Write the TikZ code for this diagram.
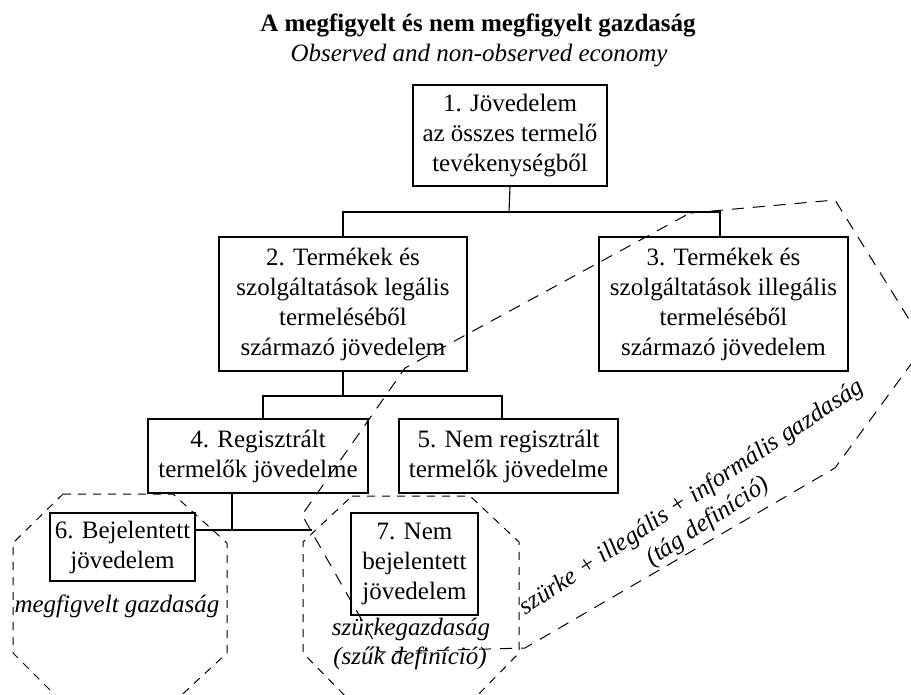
\documentclass[tikz,border=0pt]{standalone}
\usepackage{fontspec}
\setmainfont{Liberation Serif}
\begin{document}
\begin{tikzpicture}[x=1pt,y=-1pt,
  every node/.style={font=\fontsize{25}{30}\selectfont, inner sep=0pt},
  box/.style={draw, line width=1.1pt, align=center},
  link/.style={line width=1.1pt},
  oct/.style={line width=1pt, dash pattern=on 8pt off 7pt},
  wide/.style={line width=1pt, dash pattern=on 12pt off 9pt}]
\useasboundingbox (0,0) rectangle (911,695);
\clip (0,0) rectangle (911,695);

% titles
\node[anchor=base, font=\fontsize{25}{30}\selectfont\bfseries] (title) at (478,32) {A megfigyelt és nem megfigyelt gazdaság};
\node[anchor=base, font=\fontsize{25}{30}\selectfont\itshape] (subtitle) at (479,62) {Observed and non-observed economy};

% boxes
\node[box, minimum width=194pt, minimum height=101pt] (b1) at (510,135.5) {1. Jövedelem\\az összes termelő\\tevékenységből};
\node[box, minimum width=248pt, minimum height=134pt] (b2) at (343,304) {2. Termékek és\\szolgáltatások legális\\termeléséből\\származó jövedelem};
\node[box, minimum width=249pt, minimum height=134pt] (b3) at (723.5,304) {3. Termékek és\\szolgáltatások illegális\\termeléséből\\származó jövedelem};
\node[box, minimum width=220pt, minimum height=74pt] (b4) at (258,456) {4. Regisztrált\\termelők jövedelme};
\node[box, minimum width=219pt, minimum height=74pt] (b5) at (508.5,456) {5. Nem regisztrált\\termelők jövedelme};
\node[box, minimum width=145pt, minimum height=68pt] (b6) at (122.5,547) {6. Bejelentett\\jövedelem};
\node[box, minimum width=127pt, minimum height=102pt] (b7) at (414.5,564) {7. Nem\\bejelentett\\jövedelem};

% connectors
\coordinate (j1) at (509,212);
\coordinate (j2) at (343,396);
\coordinate (j3) at (232,530);
\coordinate (e7) at (312,530);
\draw[link] (b1.south) -- (j1);
\draw[link] (b2.north) |- (j1) -| ([xshift=-3.5pt]b3.north);
\draw[link] (b2.south) -- (j2);
\draw[link] ([xshift=5pt]b4.north) |- (j2) -| ([xshift=-6.5pt]b5.north);
\draw[link] ([xshift=-26pt]b4.south) -- (j3);
\draw[link] (b6.east |- j3) -- (e7);

% observed economy octagon
\draw[oct] (63,494) -- (173,494) -- (227,543) -- (227,653) -- (173,703) -- (63,703) -- (13,653) -- (13,543) -- cycle;
\node[anchor=base, font=\fontsize{25}{30}\selectfont\itshape] (obs) at (117,612) {megfigvelt gazdaság};

% grey economy octagon
\draw[oct] (352,496) -- (470,496) -- (519,542) -- (519,653) -- (470,703) -- (352,703) -- (303,653) -- (303,542) -- cycle;
\node[anchor=base, font=\fontsize{25}{30}\selectfont\itshape] (grey1) at (411,635) {szürkegazdaság};
\node[anchor=base, font=\fontsize{25}{30}\selectfont\itshape] (grey2) at (410,664) {(szűk definíció)};

% wide definition polygon
\draw[wide] (690,213) -- (835,200) -- (925,345) -- (835,468) -- (525,648) -- (380,652) -- (302,515) -- (405,368) -- cycle;
\node[align=center, rotate=33.5, font=\fontsize{25}{29}\selectfont\itshape] (wide) at (700,510) {szürke + illegális + informális gazdaság\\(tág definíció)};
\end{tikzpicture}
\end{document}
